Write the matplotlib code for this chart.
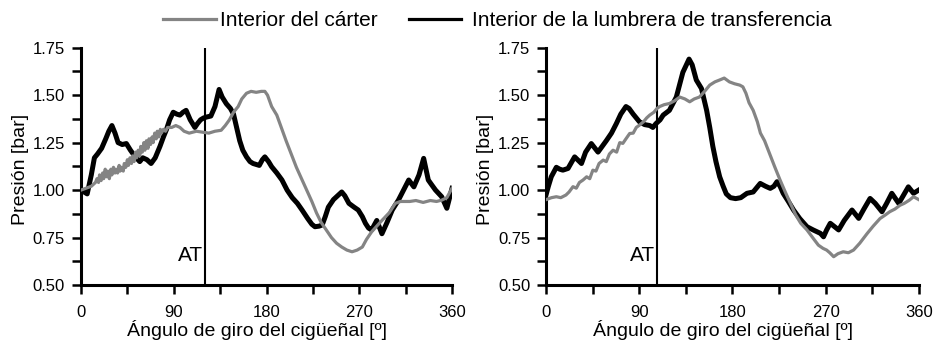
import matplotlib
matplotlib.use("Agg")
import matplotlib.pyplot as plt
from matplotlib.ticker import MultipleLocator, FuncFormatter
from matplotlib.lines import Line2D

plt.rcParams['font.family'] = ['Liberation Sans', 'DejaVu Sans']

# --- Left panel: crankcase (gray) and transfer port (black) pressure ---
left_carter_ang = [0, 5, 10, 14, 15.5, 17, 18, 19.5, 21, 22, 23.5, 25, 26, 27.5, 29, 30, 31.5, 33,
                   34, 35.5, 37, 38, 39.5, 41, 42, 43.5, 45, 46, 47.5, 49, 50, 51.5, 53, 54, 55.5,
                   57, 58, 59.5, 61, 62, 63.5, 65, 66, 67.5, 69, 70, 71.5, 73, 74, 75.5, 77, 78,
                   80, 82, 84, 88, 92, 96, 100, 105, 112, 118, 124, 130, 136, 140, 144, 148,
                   152.5, 156, 160.6, 165, 170, 175, 178.4, 181, 185, 190, 195, 199, 204, 209,
                   214, 219, 224, 228.5, 233, 238, 243, 248, 253, 258, 263, 268, 273, 277, 282,
                   287, 292, 299, 305, 310, 319, 325, 332, 339, 345, 350, 355, 360]
left_carter_p = [1.00, 1.01, 1.02, 1.04, 1.06, 1.04, 1.08, 1.05, 1.09, 1.06, 1.11, 1.07, 1.10,
                 1.06, 1.11, 1.08, 1.12, 1.09, 1.11, 1.09, 1.13, 1.10, 1.12, 1.10, 1.14, 1.12,
                 1.16, 1.13, 1.17, 1.14, 1.18, 1.15, 1.20, 1.17, 1.21, 1.18, 1.23, 1.20, 1.25,
                 1.21, 1.26, 1.22, 1.27, 1.24, 1.28, 1.25, 1.30, 1.27, 1.31, 1.28, 1.32, 1.30,
                 1.32, 1.31, 1.33, 1.33, 1.34, 1.33, 1.31, 1.30, 1.31, 1.305, 1.30, 1.31, 1.315,
                 1.34, 1.37, 1.41, 1.44, 1.48, 1.51, 1.52, 1.515, 1.52, 1.52, 1.50, 1.44, 1.395,
                 1.32, 1.26, 1.19, 1.12, 1.06, 1.00, 0.94, 0.88, 0.83, 0.79, 0.75, 0.72, 0.70,
                 0.684, 0.675, 0.684, 0.70, 0.74, 0.78, 0.81, 0.84, 0.88, 0.93, 0.94, 0.94,
                 0.945, 0.935, 0.945, 0.94, 0.947, 0.96, 1.01]

left_port_ang = [0, 3, 6, 10, 13, 16, 20, 24, 27, 30, 33, 36, 40, 44, 48, 52, 57, 60, 64, 68, 72,
                 76.6, 80, 83, 86, 89.5, 93, 96, 99, 102, 106, 110.5, 113, 116, 119, 122, 126, 130,
                 134, 137, 141, 145, 148, 151, 154, 157, 160.6, 164, 167, 170, 173, 176, 178.4,
                 182, 185, 190, 195, 200, 205, 210, 214.5, 220, 224, 227, 231, 234, 237, 240, 245,
                 249, 253, 256, 260, 265, 269, 273, 276, 279, 282, 287, 292, 297, 302, 308, 313,
                 318, 323, 328, 332.5, 337, 340, 344, 350, 355, 360]
left_port_p = [1.00, 0.99, 0.98, 1.08, 1.17, 1.19, 1.22, 1.27, 1.31, 1.34, 1.30, 1.25, 1.24, 1.245,
               1.21, 1.18, 1.15, 1.17, 1.16, 1.14, 1.17, 1.23, 1.28, 1.32, 1.37, 1.41, 1.40, 1.395,
               1.41, 1.42, 1.37, 1.33, 1.35, 1.37, 1.38, 1.385, 1.39, 1.44, 1.53, 1.49, 1.455,
               1.43, 1.40, 1.33, 1.26, 1.21, 1.175, 1.15, 1.14, 1.135, 1.13, 1.16, 1.175, 1.15,
               1.123, 1.09, 1.053, 1.00, 0.96, 0.93, 0.895, 0.85, 0.82, 0.807, 0.81, 0.816, 0.86,
               0.91, 0.95, 0.97, 0.99, 0.97, 0.93, 0.91, 0.895, 0.86, 0.825, 0.80, 0.79, 0.84,
               0.77, 0.83, 0.895, 0.947, 1.00, 1.053, 1.017, 1.08, 1.167, 1.053, 1.03, 1.00, 0.965,
               0.904, 1.009]

# --- Right panel ---
right_carter_ang = [0, 5, 9.7, 14, 19, 22, 25.8, 29, 32, 35.5, 39, 42, 45, 48, 51, 55, 58, 61,
                    64.5, 68, 71, 74, 77, 80.6, 84, 87, 90, 94, 97, 100, 104, 107, 109.6, 114,
                    119, 124, 129, 134, 138.6, 143, 148, 153, 158, 163, 167.6, 172, 177, 182, 187,
                    190, 193, 196, 200, 204, 207, 211, 216, 221, 226, 231, 236, 241, 246, 252, 258,
                    263, 267.5, 271, 274, 277.8, 282, 287, 292, 297, 303, 310, 316, 322.6, 328,
                    332, 337, 341.9, 346, 351, 355, 360]
right_carter_p = [0.95, 0.96, 0.965, 0.96, 0.974, 0.99, 1.018, 1.01, 1.04, 1.053, 1.07, 1.06, 1.105,
                  1.10, 1.14, 1.158, 1.15, 1.19, 1.21, 1.20, 1.25, 1.246, 1.27, 1.298, 1.30,
                  1.33, 1.342, 1.36, 1.38, 1.395, 1.41, 1.43, 1.44, 1.45, 1.456, 1.47, 1.49, 1.48,
                  1.465, 1.48, 1.49, 1.52, 1.553, 1.57, 1.58, 1.59, 1.57, 1.56, 1.553, 1.544,
                  1.51, 1.46, 1.42, 1.36, 1.30, 1.26, 1.19, 1.12, 1.053, 0.99, 0.93, 0.87, 0.825,
                  0.79, 0.746, 0.71, 0.693, 0.684, 0.67, 0.649, 0.665, 0.675, 0.67, 0.684, 0.72,
                  0.77, 0.81, 0.85, 0.87, 0.886, 0.90, 0.92, 0.93, 0.947, 0.965, 0.95]

right_port_ang = [0, 2, 4.8, 9.7, 13, 16, 21, 27.4, 34, 38, 43.5, 50, 54, 58, 63, 67.7, 72, 77,
                  80, 84, 90, 95, 100, 103, 106, 110, 113, 119, 125.7, 132, 138, 141, 145, 150,
                  155, 158, 161, 164, 167.6, 171, 174, 178, 183, 188, 194, 200, 206.8, 212, 216.5,
                  220, 223, 226, 229, 234, 239, 245, 252, 258, 265, 268, 271, 274.5, 278, 282.6,
                  288, 295.5, 302, 307, 313, 318, 324.5, 329, 334, 340.7, 345, 350, 355, 360]
right_port_p = [0.98, 1.02, 1.07, 1.12, 1.11, 1.105, 1.114, 1.175, 1.14, 1.20, 1.245, 1.20, 1.23,
                1.26, 1.30, 1.35, 1.40, 1.44, 1.43, 1.40, 1.36, 1.345, 1.34, 1.33, 1.35, 1.37,
                1.395, 1.42, 1.49, 1.62, 1.69, 1.66, 1.58, 1.535, 1.42, 1.33, 1.23, 1.15, 1.07,
                1.02, 0.98, 0.96, 0.955, 0.96, 0.983, 0.99, 1.035, 1.02, 1.009, 1.02, 1.044, 1.02,
                0.983, 0.94, 0.895, 0.85, 0.807, 0.79, 0.772, 0.754, 0.79, 0.825, 0.81, 0.79,
                0.84, 0.895, 0.851, 0.90, 0.956, 0.93, 0.886, 0.93, 0.983, 0.93, 0.97, 1.017,
                0.983, 1.00]

# Transfer-port opening angle (AT) for each case
at_angles = [120, 107]

series_labels = ['Interior del cárter', 'Interior de la lumbrera de transferencia']

panels = [
    ((left_carter_ang, left_carter_p), (left_port_ang, left_port_p)),
    ((right_carter_ang, right_carter_p), (right_port_ang, right_port_p)),
]

GRAY = '#848484'
BLACK = '#000000'

fig = plt.figure(figsize=(9.33, 3.42), dpi=100)
W, H = 933, 342
rects = [[81 / W, 57 / H, 371 / W, 237.3 / H], [546.3 / W, 57 / H, 372.4 / W, 237.3 / H]]

for rect, (carter, port), at in zip(rects, panels, at_angles):
    ax = fig.add_axes(rect)
    ax.plot(*port, color=BLACK, lw=3.6, solid_joinstyle='round', zorder=3)
    ax.plot(*carter, color=GRAY, lw=2.3, solid_joinstyle='round', zorder=4)
    ax.axvline(at, color='black', lw=1.5, zorder=2)
    ax.text(at - 1.5, 0.655, 'AT', ha='right', va='center', fontsize=15)
    ax.set_xlim(0, 360)
    ax.set_ylim(0.5, 1.75)
    ax.xaxis.set_major_locator(MultipleLocator(90))
    ax.xaxis.set_minor_locator(MultipleLocator(45))
    ax.yaxis.set_major_locator(MultipleLocator(0.25))
    ax.yaxis.set_minor_locator(MultipleLocator(0.125))
    ax.yaxis.set_major_formatter(FuncFormatter(lambda v, _: f'{v:.2f}'))
    ax.tick_params(which='both', direction='out', length=6.5, width=1.8, labelsize=12)
    ax.tick_params(axis='x', pad=8)
    ax.tick_params(axis='y', pad=5)
    for s in ('top', 'right'):
        ax.spines[s].set_visible(False)
    for s in ('left', 'bottom'):
        ax.spines[s].set_linewidth(2.2)
    ax.set_xlabel('Ángulo de giro del cigüeñal [º]', fontsize=14)
    ax.set_ylabel('Presión [bar]', fontsize=14)
    ax.xaxis.set_label_coords(0.474, -0.148)
    ax.yaxis.set_label_coords(-0.14, 0.485)

# Legend drawn across the top of the figure
legend_y = 1 - 18.5 / H
for (x0, x1), color, tx, label in [((163, 216), GRAY, 220, series_labels[0]),
                                   ((409, 461), BLACK, 472, series_labels[1])]:
    fig.add_artist(Line2D([x0 / W, x1 / W], [legend_y, legend_y], color=color, lw=2.3,
                          transform=fig.transFigure))
    fig.text(tx / W, 1 - 26.5 / H, label, ha='left', va='baseline', fontsize=15)

fig.savefig('out.png', dpi=100)
